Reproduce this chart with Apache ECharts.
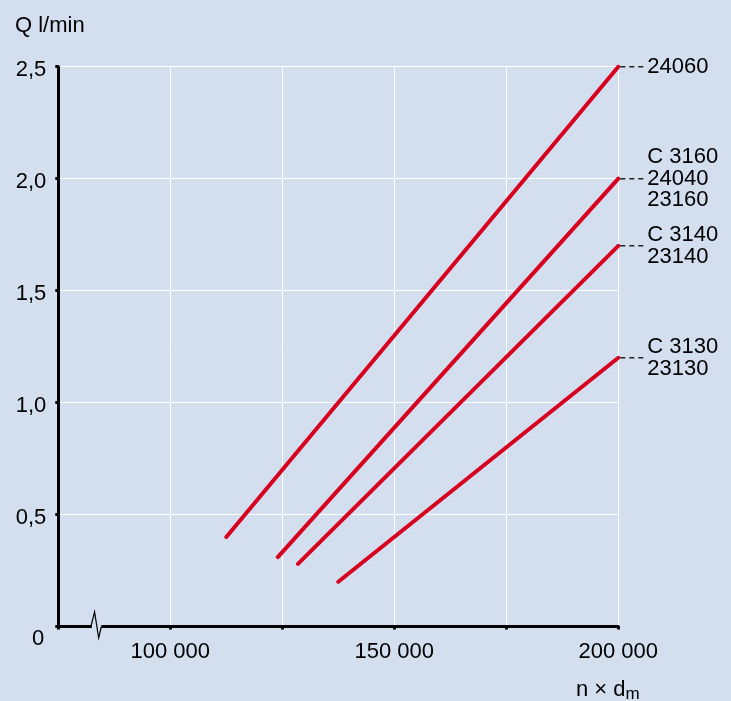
<!DOCTYPE html>
<html><head><meta charset="utf-8">
<script src="https://cdn.jsdelivr.net/npm/echarts@6/dist/echarts.min.js"></script>
<style>html,body{margin:0;padding:0;background:#d3deef}#c{width:731px;height:701px}</style>
</head><body><div id="c"></div>
<script>
// Data
const seriesLabels = ['24060', 'C 3160\n24040\n23160', 'C 3140\n23140', 'C 3130\n23130'];
const startX = [112500, 124000, 128500, 137500];
const startQ = [0.40, 0.31, 0.28, 0.20];
const endX = [200000, 200000, 200000, 200000];
const endQ = [2.5, 2.0, 1.7, 1.2];
const xTickLabels = {100000: '100 000', 150000: '150 000', 200000: '200 000'};
const yTickLabels = {0: '0', 0.5: '0,5', 1: '1,0', 1.5: '1,5', 2: '2,0', 2.5: '2,5'};
const yTitle = 'Q l/min';
const breakX = 83500;

const FONT = 'Liberation Sans';
const FS = 22;
const RED = '#d7001e';

const chart = echarts.init(document.getElementById('c'), null, {renderer: 'canvas'});

const series = seriesLabels.map((name, i) => ({
  type: 'line',
  name: name,
  data: [[startX[i], startQ[i]], [endX[i], endQ[i]]],
  symbol: 'none',
  lineStyle: {color: RED, width: 4, cap: 'round'},
  endLabel: {
    show: true, formatter: name, distance: 29, color: '#000',
    fontFamily: FONT, fontSize: FS, lineHeight: 21.7, align: 'left'
  },
  silent: true,
  animation: false,
  z: 5
}));

chart.setOption({
  backgroundColor: '#d3deef',
  animation: false,
  title: [
    {text: yTitle, left: 10, top: 10, textStyle: {fontFamily: FONT, fontSize: FS, fontWeight: 'normal', color: '#000'}},
    {text: 'n × d{sub|m}', left: 571, top: 671,
     textStyle: {fontFamily: FONT, fontSize: FS, fontWeight: 'normal', color: '#000',
       rich: {sub: {fontFamily: FONT, fontSize: 17, color: '#000', verticalAlign: 'bottom', padding: [10, 0, 0, 0]}}}}
  ],
  grid: {left: 58.3, right: 112.7, top: 66.7, bottom: 74.5, containLabel: false},
  xAxis: {
    type: 'value', min: 75000, max: 200000, interval: 25000,
    axisLine: {show: true, lineStyle: {color: '#000', width: 3}},
    axisTick: {show: true, length: 3, lineStyle: {color: '#000', width: 3}},
    axisLabel: {margin: 14, formatter: v => xTickLabels[v] || '', color: '#000', fontFamily: FONT, fontSize: FS},
    splitLine: {show: true, lineStyle: {color: '#ffffff', width: 1}}
  },
  yAxis: {
    type: 'value', min: 0, max: 2.5, interval: 0.5,
    axisLine: {show: true, lineStyle: {color: '#000', width: 3}},
    axisTick: {show: true, length: 3, lineStyle: {color: '#000', width: 3}},
    axisLabel: {
      margin: 12, color: '#000', fontFamily: FONT, fontSize: FS,
      formatter: v => v === 0 ? '{z|0}' : '{n|' + (yTickLabels[v] || '') + '}',
      rich: {z: {fontFamily: FONT, fontSize: FS, color: '#000', padding: [24, 2, 0, 0]},
             n: {fontFamily: FONT, fontSize: FS, color: '#000', padding: [7, 0, 0, 0]}}
    },
    splitLine: {show: true, lineStyle: {color: '#ffffff', width: 1}}
  },
  series: series
});

// decorations: leaders and axis break, computed from the data via the library's scales
const graphics = [];
for (let i = 0; i < endX.length; i++) {
  const p = chart.convertToPixel({gridIndex: 0}, [endX[i], endQ[i]]);
  graphics.push({
    type: 'line', z: 10, silent: true,
    shape: {x1: p[0] + 2, y1: p[1], x2: p[0] + 26, y2: p[1]},
    style: {stroke: '#222', lineWidth: 1.5, lineDash: [5, 4]}
  });
}
const b = chart.convertToPixel({gridIndex: 0}, [breakX, 0]);
graphics.push({
  type: 'rect', z: 10, silent: true,
  shape: {x: b[0] - 4.5, y: b[1] - 3, width: 9.5, height: 6},
  style: {fill: '#d3deef'}
});
graphics.push({
  type: 'polyline', z: 11, silent: true,
  shape: {points: [[b[0] - 5.5, b[1]], [b[0] - 1.8, b[1] - 14.5], [b[0] + 2.3, b[1] + 11.5], [b[0] + 5, b[1]]]},
  style: {stroke: '#000', lineWidth: 1.2, fill: null}
});
chart.setOption({graphic: graphics});
</script>
</body></html>
